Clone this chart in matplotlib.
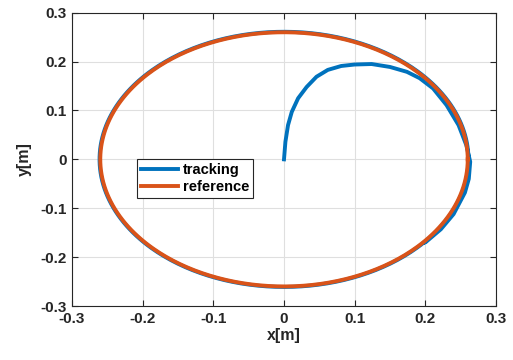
import numpy as np
import matplotlib
matplotlib.use("Agg")
import matplotlib.pyplot as plt

plt.rcParams['font.family'] = ['Liberation Sans', 'DejaVu Sans']
plt.rcParams['font.weight'] = 'bold'

# reference circle radius
ref_radius = 0.26
# tracking transient
track_x = [0.0, 0.002, 0.0057, 0.011, 0.020, 0.032, 0.046, 0.062, 0.081, 0.100, 0.124,
           0.150, 0.174, 0.192, 0.211, 0.230, 0.247, 0.258, 0.2635, 0.2615, 0.256,
           0.240, 0.222, 0.200]
track_y = [0.0, 0.036, 0.070, 0.097, 0.125, 0.148, 0.169, 0.183, 0.191, 0.194, 0.195,
           0.189, 0.179, 0.166, 0.145, 0.111, 0.070, 0.029, -0.005, -0.040, -0.068,
           -0.112, -0.143, -0.170]
# steady-state tracking radius (slightly outside reference)
track_radius = 0.261

x_ticks = [-0.3, -0.2, -0.1, 0, 0.1, 0.2, 0.3]
y_ticks = [-0.3, -0.2, -0.1, 0, 0.1, 0.2, 0.3]
tick_labels = ['-0.3', '-0.2', '-0.1', '0', '0.1', '0.2', '0.3']

fig = plt.figure(figsize=(5.13, 3.6), dpi=100)
ax = fig.add_axes([72/513, 1-306/360, 424/513, 293.3/360])

a0 = np.arctan2(track_y[-1], track_x[-1])
ang = np.linspace(a0, a0 - 2*np.pi, 400)
tx = np.concatenate([np.array(track_x), track_radius*np.cos(ang)])
ty = np.concatenate([np.array(track_y), track_radius*np.sin(ang)])

rang = np.linspace(0, 2*np.pi, 400)
rx = ref_radius*np.cos(rang)
ry = ref_radius*np.sin(rang)

ax.plot(tx, ty, color='#0072BD', lw=2.8, label='tracking', solid_joinstyle='round')
ax.plot(rx, ry, color='#D95319', lw=2.8, label='reference')

ax.set_xlim(-0.3, 0.3)
ax.set_ylim(-0.3, 0.3)
ax.set_xticks(x_ticks)
ax.set_yticks(y_ticks)
ax.set_xticklabels(tick_labels)
ax.set_yticklabels(tick_labels)
ax.grid(True, color='#DFDFDF', lw=0.8)
ax.set_axisbelow(True)
ax.tick_params(direction='in', length=4, width=0.8, top=True, right=True,
               labelsize=11, color='#262626', labelcolor='#262626', pad=4)
for s in ax.spines.values():
    s.set_color('#262626')
    s.set_linewidth(0.8)
ax.set_xlabel('x[m]', fontsize=11.5, fontweight='bold', color='#262626', labelpad=2)
ax.set_ylabel('y[m]', fontsize=11.5, fontweight='bold', color='#262626', labelpad=6)

leg = ax.legend(loc='lower left', bbox_to_anchor=(0.153, 0.368), fontsize=10.5,
                handlelength=2.6, handletextpad=0.3, borderpad=0.25, labelspacing=0.25,
                fancybox=False, framealpha=1, edgecolor='#262626', borderaxespad=0)
leg.get_frame().set_linewidth(0.8)
for t in leg.get_texts():
    t.set_fontweight('bold')

fig.savefig('out.png', dpi=100)
